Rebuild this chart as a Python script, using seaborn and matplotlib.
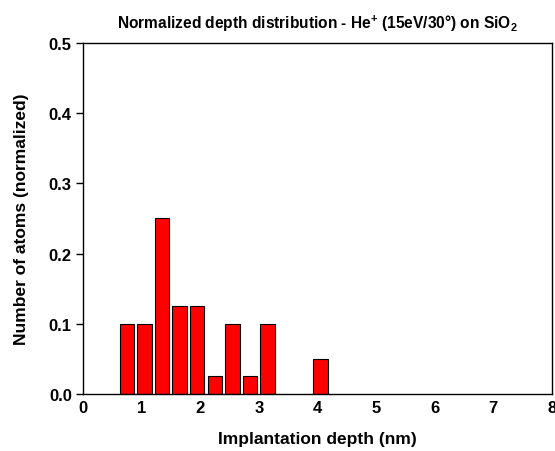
import numpy as np
import pandas as pd
import matplotlib
matplotlib.use("Agg")
import matplotlib.pyplot as plt
import seaborn as sns

# depth bins (nm) and normalized counts
depth = [0.75, 1.05, 1.35, 1.65, 1.95, 2.25, 2.55, 2.85, 3.15, 4.05]
fraction = [0.1, 0.1, 0.25, 0.125, 0.125, 0.025, 0.1, 0.025, 0.1, 0.05]
x_ticks = [0, 1, 2, 3, 4, 5, 6, 7, 8]
y_ticks = [0.0, 0.1, 0.2, 0.3, 0.4, 0.5]

sns.set_style("white")
plt.rcParams['font.family'] = ['Liberation Sans', 'DejaVu Sans']
plt.rcParams['text.color'] = 'black'
plt.rcParams['axes.labelcolor'] = 'black'
plt.rcParams['xtick.color'] = 'black'
plt.rcParams['ytick.color'] = 'black'
plt.rcParams['mathtext.fontset'] = 'custom'
plt.rcParams['mathtext.bf'] = 'Liberation Sans:bold'
plt.rcParams['mathtext.rm'] = 'Liberation Sans:bold'

df = pd.DataFrame({"depth": depth, "fraction": fraction})

fig = plt.figure(figsize=(5.55, 4.52), dpi=100)
ax = fig.add_axes([0.1495, 0.126, 0.845, 0.777])

sns.barplot(data=df, x="depth", y="fraction", native_scale=True, width=0.82,
            color="#ff0000", saturation=1, edgecolor="black", linewidth=0.8, ax=ax)

ax.set_xlim(0, 8)
ax.set_ylim(0, 0.5)
ax.set_xticks(x_ticks)
ax.set_yticks(y_ticks)
ax.set_xticklabels([str(t) for t in x_ticks], fontweight="bold", fontsize=12)
ax.set_yticklabels([f"{t:.1f}" for t in y_ticks], fontweight="bold", fontsize=12)
ax.tick_params(axis="x", direction="in", length=5, width=1, pad=4)
ax.tick_params(axis="y", direction="out", length=5, width=1, pad=3, left=True)
for s in ax.spines.values():
    s.set_visible(True)
    s.set_color("black")
    s.set_linewidth(1)

ax.set_xlabel("Implantation depth (nm)", fontweight="bold", fontsize=12.5, labelpad=12)
ax.set_ylabel("Number of atoms (normalized)", fontweight="bold", fontsize=12.5, labelpad=14)
ax.set_title(r"Normalized depth distribution - He$^{\mathbf{\plus}}$ (15eV/30°) on SiO$_{\mathbf{2}}$",
             fontweight="bold", fontsize=11.2, pad=11)

fig.savefig("out.png", dpi=100)
